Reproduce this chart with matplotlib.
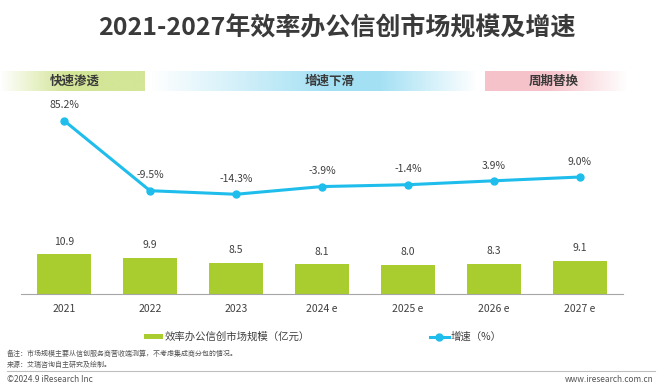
import numpy as np
import matplotlib
matplotlib.use("Agg")
import matplotlib.pyplot as plt
from matplotlib.colors import to_rgb

plt.rcParams['font.family'] = ['Noto Sans CJK SC', 'DejaVu Sans']

# data
years = ["2021", "2022", "2023", "2024 e", "2025 e", "2026 e", "2027 e"]
market_size = [10.9, 9.9, 8.5, 8.1, 8.0, 8.3, 9.1]
growth = [85.2, -9.5, -14.3, -3.9, -1.4, 3.9, 9.0]
phases = ["快速渗透", "增速下滑", "周期替换"]

bar_color = "#a9cd2f"
line_color = "#1fbdeb"
text_color = "#404040"

W, H = 660, 388
fig = plt.figure(figsize=(W / 100, H / 100), dpi=100)

# overlay axes in pixel coords for decorations
deco = fig.add_axes([0, 0, 1, 1])
deco.set_xlim(0, W)
deco.set_ylim(H, 0)
deco.axis("off")


def band(x0, x1, y0, y1, color, alpha):
    rgb = np.array(to_rgb(color))
    img = np.ones((1, len(alpha), 4))
    img[0, :, :3] = rgb
    img[0, :, 3] = alpha
    deco.imshow(img, extent=[x0, x1, y1, y0], aspect="auto", interpolation="bilinear", zorder=1)


t = np.linspace(0, 1, 200)
band(0, 145, 71, 91, "#d3e597", np.clip(t / 0.45, 0, 1))
band(150, 478, 71, 91, "#a3e0f4", np.clip(np.minimum(t / 0.55, (1 - t) / 0.3), 0, 1))
band(485, 628, 71, 91, "#f6c2ca", np.clip((1 - t) / 0.55, 0, 1))
for label, xc in zip(phases, [75, 330, 554]):
    deco.text(xc, 81, label, ha="center", va="center", fontsize=9, fontweight="bold",
              color="#3a3a3a", zorder=2)

deco.text(337, 28, "2021-2027年效率办公信创市场规模及增速", ha="center", va="center",
          fontsize=18, fontweight="bold", color="#3a3a3a")

# main chart
ax = fig.add_axes([21 / W, 1 - 294 / H, 602 / W, 194 / H])
x = np.arange(len(years))
bars = ax.bar(x, market_size, width=0.63, color=bar_color, zorder=2,
              label="效率办公信创市场规模（亿元）")
ax.set_xlim(-0.5, 6.5)
ax.set_ylim(0, 52.9)
for xi, v in zip(x, market_size):
    ax.annotate(f"{v:.1f}", (xi, v), xytext=(0, 9), textcoords="offset points",
                ha="center", va="center", fontsize=7.5, color=text_color)
for s in ["top", "left", "right"]:
    ax.spines[s].set_visible(False)
ax.spines["bottom"].set_color("#a6a6a6")
ax.set_yticks([])
ax.set_xticks(x)
ax.set_xticklabels(years, fontsize=7.5, color=text_color)
ax.tick_params(axis="x", length=0, pad=7)
ax.patch.set_alpha(0)

ax2 = ax.twinx()
ax2.set_ylim(-149, 113)
line, = ax2.plot(x, growth, color=line_color, lw=2.2, marker="o", markersize=5,
                 label="增速（%）", zorder=3)
for xi, v in zip(x, growth):
    ax2.annotate(f"{v:.1f}%", (xi, v), xytext=(0, 11), textcoords="offset points",
                 ha="center", va="center", fontsize=7.5, color=text_color)
ax2.axis("off")

fig.legend(handles=[bars, line], loc="center", bbox_to_anchor=(323 / W, 1 - 337 / H),
           ncol=2, frameon=False, fontsize=7.5, handlelength=1.8, handleheight=0.5,
           handletextpad=0.2, columnspacing=11.5, labelcolor=text_color)

# footer
deco.text(7, 354, "备注：市场规模主要从信创服务商营收端测算，不考虑集成商分包的情况。",
          ha="left", va="center", fontsize=5, color="#555555")
deco.text(7, 365, "来源：艾瑞咨询自主研究及绘制。", ha="left", va="center",
          fontsize=5, color="#555555")
deco.plot([7, 655], [371, 371], color="#bfbfbf", lw=0.8)
deco.text(7, 379, "©2024.9 iResearch Inc", ha="left", va="center", fontsize=6,
          color="#555555")
deco.text(654, 379, "www.iresearch.com.cn", ha="right", va="center", fontsize=6,
          color="#555555")

fig.savefig("out.png", dpi=100)
